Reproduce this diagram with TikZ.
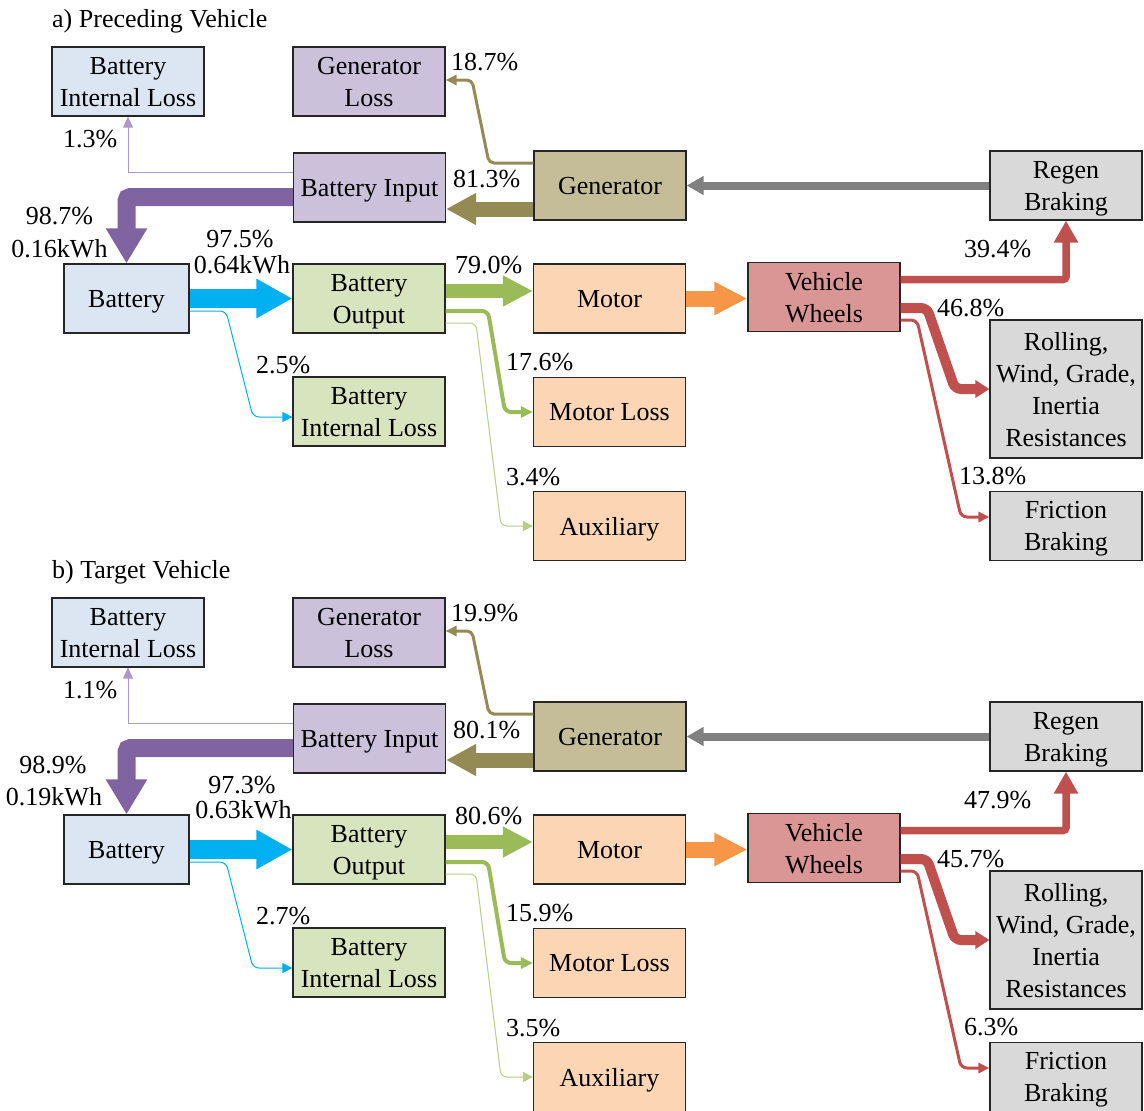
\documentclass[tikz,border=0pt]{standalone}
\usepackage{fontspec}
\setmainfont{Liberation Serif}
\usetikzlibrary{arrows.meta}

% box fills
\definecolor{boxline}{RGB}{38,38,38}
\definecolor{fBlue}{RGB}{220,230,242}
\definecolor{fPurple}{RGB}{204,193,218}
\definecolor{fTan}{RGB}{196,189,151}
\definecolor{fGreen}{RGB}{215,228,189}
\definecolor{fPeach}{RGB}{252,213,181}
\definecolor{fRed}{RGB}{217,150,148}
\definecolor{fGray}{RGB}{217,217,217}
% flow colours
\definecolor{cPurple}{RGB}{128,100,162}
\definecolor{cPurpleLt}{RGB}{172,152,202}
\definecolor{cTan}{RGB}{148,138,84}
\definecolor{cGray}{RGB}{128,128,128}
\definecolor{cBlue}{RGB}{0,176,240}
\definecolor{cGreen}{RGB}{155,187,89}
\definecolor{cGreenLt}{RGB}{182,206,135}
\definecolor{cOrange}{RGB}{247,150,70}
\definecolor{cRed}{RGB}{192,80,77}

\tikzset{
  box/.style={draw=boxline, line width=1.2pt, fill=#1, minimum width=152pt,
    minimum height=69pt, align=center, inner sep=2pt, text depth=0pt},
  pct/.style={anchor=base west, inner sep=0pt},
  pctc/.style={anchor=base, inner sep=0pt},
  flow/.style n args={4}{draw=#1, line width=#2, -{Triangle[length=#3,width=#4]}},
}

% one energy-flow panel; #1 is the prefix of its node names
\newcommand\energypanel[1]{%
  \node[pct] (#1title) at (52,27) {\LbTitle};
  % boxes
  \node[box=fBlue]   (#1bil)      at (128,81.5)   {Battery\\Internal Loss};
  \node[box=fPurple] (#1genloss)  at (369,81.5)   {Generator\\Loss};
  \node[box=fPurple] (#1binput)   at (369.5,187.5){Battery Input};
  \node[box=fTan]    (#1gen)      at (610,185.5)  {Generator};
  \node[box=fGray]   (#1regen)    at (1066,185.5) {Regen\\Braking};
  \node[box=fBlue, minimum width=125pt] (#1battery) at (126.5,298.5) {Battery};
  \node[box=fGreen]  (#1bout)     at (369,298.5)  {Battery\\Output};
  \node[box=fPeach]  (#1motor)    at (609.5,298.5){Motor};
  \node[box=fRed]    (#1vw)       at (824,297)    {Vehicle\\Wheels};
  \node[box=fGreen]  (#1bil2)     at (369,411.5)  {Battery\\Internal Loss};
  \node[box=fPeach]  (#1motorloss) at (609.5,412) {Motor Loss};
  \node[box=fPeach]  (#1aux)      at (609.5,526)  {Auxiliary};
  \node[box=fGray, minimum height=138pt] (#1rolling) at (1066,389)
    {Rolling,\\Wind, Grade,\\Inertia\\Resistances};
  \node[box=fGray]   (#1friction) at (1066,526)   {Friction\\Braking};
  % flows
  \draw[flow={cGray}{8pt}{17pt}{18pt}] (#1regen.west) -- (#1gen.east);
  \draw[flow={cTan}{15pt}{30pt}{30pt}] (#1gen.west |- 0,209) -- (#1binput.east |- 0,209);
  \draw[flow={cTan}{3pt}{11pt}{10pt}, rounded corners=5pt]
    (#1gen.west |- 0,163) -- (489,163) -- (472,80) -- (#1genloss.east |- 0,80);
  \draw[flow={cPurpleLt}{1pt}{11pt}{10pt}]
    (#1binput.west |- 0,172) -- (128,172) -- (#1bil.south);
  \draw[flow={cPurple}{18pt}{35pt}{39pt}, rounded corners=4pt]
    (#1binput.west |- 0,197) -- (126.5,197) -- (#1battery.north);
  \draw[flow={cBlue}{19pt}{36pt}{37pt}] (#1battery.east) -- (#1bout.west);
  \draw[flow={cBlue}{1pt}{10pt}{10pt}, rounded corners=6pt]
    (#1battery.east |- 0,311) -- (226,311) -- (253,417) -- (#1bil2.west |- 0,417);
  \draw[flow={cGreen}{14pt}{30pt}{29pt}] (#1bout.east |- 0,291) -- (#1motor.west |- 0,291);
  \draw[flow={cGreen}{4pt}{12pt}{11pt}, rounded corners=6pt]
    (#1bout.east |- 0,311) -- (488,311) -- (505,412) -- (#1motorloss.west);
  \draw[flow={cGreenLt}{1pt}{10pt}{10pt}, rounded corners=6pt]
    (#1bout.east |- 0,323) -- (476,323) -- (501,526) -- (#1aux.west);
  \draw[flow={cOrange}{16pt}{33pt}{31pt}] (#1motor.east) -- (#1motor.east -| #1vw.west);
  \draw[flow={cRed}{7.5pt}{22pt}{23pt}, rounded corners=3pt]
    (#1vw.east |- 0,279.5) -- (1066,279.5) -- (#1regen.south);
  \draw[flow={cRed}{10pt}{14pt}{17pt}, rounded corners=6pt]
    (#1vw.east |- 0,308) -- (927,308) -- (955,389) -- (#1rolling.west);
  \draw[flow={cRed}{3pt}{11pt}{10pt}, rounded corners=6pt]
    (#1vw.east |- 0,320) -- (917,320) -- (961,517) -- (#1friction.west |- 0,517);
  % shares
  \node[pct]  (#1pbil)   at (63,147)   {\LbBil};
  \node[pct]  (#1pgl)    at (451,70)   {\LbGenLoss};
  \node[pct]  (#1pbi)    at (453,187)  {\LbBatIn};
  \node[pctc] (#1pin)    at (\InX,\InY)   {\LbIn};
  \node[pctc] (#1pinkwh) at (\InkX,\InkY) {\LbInKwh};
  \node[pctc] (#1pout)   at (\OutX,\OutY)   {\LbOut};
  \node[pctc] (#1poutkwh) at (\OutkX,\OutkY) {\LbOutKwh};
  \node[pct]  (#1pmot)   at (455,273)  {\LbMotor};
  \node[pct]  (#1pint)   at (256,373)  {\LbInt};
  \node[pct]  (#1pml)    at (506,370)  {\LbMotLoss};
  \node[pct]  (#1paux)   at (506,485)  {\LbAux};
  \node[pct]  (#1pregen) at (964,257)  {\LbRegen};
  \node[pct]  (#1proll)  at (937,316)  {\LbRoll};
  \node[pct]  (#1pfric)  at (\FricX,484) {\LbFric};
}

\begin{document}
\begin{tikzpicture}[x=1pt, y=-1pt, font=\fontsize{26}{32}\selectfont]
\useasboundingbox (0,0) rectangle (1144,1111);

% preceding vehicle
\def\LbTitle{a) Preceding Vehicle}
\def\LbBil{1.3\%}\def\LbGenLoss{18.7\%}\def\LbBatIn{81.3\%}
\def\LbIn{98.7\%}\def\LbInKwh{0.16kWh}\def\LbOut{97.5\%}\def\LbOutKwh{0.64kWh}
\def\LbMotor{79.0\%}\def\LbInt{2.5\%}\def\LbMotLoss{17.6\%}\def\LbAux{3.4\%}
\def\LbRegen{39.4\%}\def\LbRoll{46.8\%}\def\LbFric{13.8\%}
\def\InX{59.5}\def\InY{224}\def\InkX{59.5}\def\InkY{257}
\def\OutX{240}\def\OutY{247}\def\OutkX{242}\def\OutkY{273}
\def\FricX{959}
\energypanel{a}

% target vehicle
\begin{scope}[shift={(0,551)}]
\def\LbTitle{b) Target Vehicle}
\def\LbBil{1.1\%}\def\LbGenLoss{19.9\%}\def\LbBatIn{80.1\%}
\def\LbIn{98.9\%}\def\LbInKwh{0.19kWh}\def\LbOut{97.3\%}\def\LbOutKwh{0.63kWh}
\def\LbMotor{80.6\%}\def\LbInt{2.7\%}\def\LbMotLoss{15.9\%}\def\LbAux{3.5\%}
\def\LbRegen{47.9\%}\def\LbRoll{45.7\%}\def\LbFric{6.3\%}
\def\InX{53}\def\InY{222}\def\InkX{54}\def\InkY{254}
\def\OutX{242}\def\OutY{242}\def\OutkX{243.5}\def\OutkY{267}
\def\FricX{964}
\energypanel{b}
\end{scope}
\end{tikzpicture}
\end{document}
